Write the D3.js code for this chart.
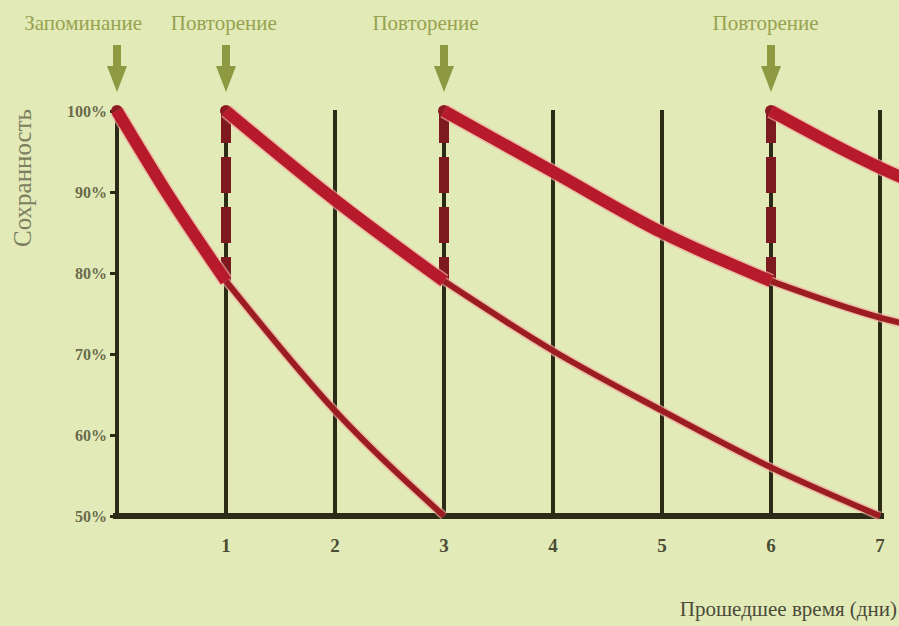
<!DOCTYPE html>
<html>
<head>
<meta charset="utf-8">
<script src="https://cdn.jsdelivr.net/npm/d3@7"></script>
<style>
  body { margin: 0; background: #e2eab8; }
  svg { display: block; }
  text { font-family: "Liberation Serif", "DejaVu Serif", serif; }
</style>
</head>
<body>
<svg id="vis" width="899" height="626"></svg>
<script>
// forgetting curve with repetitions

const days = [1, 2, 3, 4, 5, 6, 7];
const percentTicks = [50, 60, 70, 80, 90, 100];

const eventDays = [0, 1, 3, 6];
const eventLabels = ["Запоминание", "Повторение", "Повторение", "Повторение"];
const labelDays = [-0.31, 0.98, 2.83, 5.95];

// each curve: thick part until the next repetition, then thin
const curves = [
    { thick: [[0, 100], [0.5, 89], [1, 79]], thin: [[1, 79], [2, 63], [3, 50]] },
    { thick: [[1, 100], [2, 89], [3, 79]], thin: [[3, 79], [4, 70.4], [5, 63], [6, 56], [7, 50]] },
    { thick: [[3, 100], [4, 92.5], [5, 85], [6, 79]], thin: [[6, 79], [7, 74.5], [7.2, 73.8]] },
    { thick: [[6, 100], [7, 93], [7.2, 91.8]], thin: [] }
];
const repeatDays = [1, 3, 6];
const repeatFrom = [79, 79, 79];

const svg = d3.select('#vis');
const WIDTH = 899;
const HEIGHT = 626;

const x = d3.scaleLinear().domain([0, 7]).range([117, 880]);
const y = d3.scaleLinear().domain([50, 100]).range([516, 111]);

const gridColor = "#2b2b17";
const red = "#b71a2b";
const darkRed = "#9b1d22";
const olive = "#8d9a42";

svg.append("rect")
    .attr("width", WIDTH)
    .attr("height", HEIGHT)
    .attr("fill", "#e2eab8");

// vertical day lines
svg.selectAll(".grid")
    .data(days)
    .enter().append("line")
    .attr("class", "grid")
    .attr("x1", d => x(d))
    .attr("x2", d => x(d))
    .attr("y1", y(50))
    .attr("y2", y(100) - 1)
    .attr("stroke", gridColor)
    .attr("stroke-width", 4);

// y axis
const yAxis = svg.append("g")
    .attr("transform", "translate(" + x(0) + ",0)")
    .call(d3.axisLeft(y)
        .tickValues(percentTicks)
        .tickSize(7)
        .tickPadding(3)
        .tickFormat(d => d + "%"));

yAxis.select(".domain").remove();
yAxis.selectAll(".tick line")
    .attr("stroke", gridColor)
    .attr("stroke-width", 3);
yAxis.selectAll(".tick text")
    .attr("fill", "#6a6b4c")
    .attr("font-size", 16)
    .attr("font-weight", "bold")
    .attr("font-family", "'Liberation Serif', serif");

svg.append("line")
    .attr("x1", x(0))
    .attr("x2", x(0))
    .attr("y1", y(50))
    .attr("y2", y(100) - 4)
    .attr("stroke", gridColor)
    .attr("stroke-width", 4);

// baseline
svg.append("line")
    .attr("x1", x(0) - 4)
    .attr("x2", x(7) + 4)
    .attr("y1", y(50))
    .attr("y2", y(50))
    .attr("stroke", gridColor)
    .attr("stroke-width", 6);

// x tick labels
svg.selectAll(".xlabel")
    .data(days)
    .enter().append("text")
    .attr("class", "xlabel")
    .attr("x", d => x(d))
    .attr("y", 552)
    .attr("text-anchor", "middle")
    .attr("font-size", 19)
    .attr("font-weight", "bold")
    .attr("fill", "#4b4d35")
    .text(d => d);

// dashed repetition jumps
svg.selectAll(".jump")
    .data(repeatDays)
    .enter().append("line")
    .attr("class", "jump")
    .attr("x1", d => x(d))
    .attr("x2", d => x(d))
    .attr("y1", y(100) - 4)
    .attr("y2", (d, i) => y(repeatFrom[i]))
    .attr("stroke", "#7d1a1f")
    .attr("stroke-width", 10)
    .attr("stroke-dasharray", "36,14");

// rounded peaks where each curve starts (under the curves)
svg.selectAll(".peak")
    .data(eventDays)
    .enter().append("circle")
    .attr("class", "peak")
    .attr("cx", d => x(d))
    .attr("cy", y(100))
    .attr("r", 6)
    .attr("fill", "#8e1a22");

const line = d3.line()
    .x(d => x(d[0]))
    .y(d => y(d[1]))
    .curve(d3.curveMonotoneX);

// curves with a pinkish halo
function drawCurve(points, width, color) {
    if (!points.length) return;
    svg.append("path")
        .attr("d", line(points))
        .attr("fill", "none")
        .attr("stroke", "#f1a99c")
        .attr("stroke-opacity", 0.7)
        .attr("stroke-width", width + 3)
        .attr("stroke-linejoin", "round");
    svg.append("path")
        .attr("d", line(points))
        .attr("fill", "none")
        .attr("stroke", color)
        .attr("stroke-width", width)
        .attr("stroke-linejoin", "round");
}

curves.forEach(function (c) {
    drawCurve(c.thin, 6, darkRed);
});
curves.forEach(function (c) {
    drawCurve(c.thick, 12, red);
});

// arrows and labels at the top
svg.selectAll(".arrow")
    .data(eventDays)
    .enter().append("path")
    .attr("class", "arrow")
    .attr("d", d => "M" + (x(d) - 4) + ",45 L" + (x(d) + 4) + ",45 L" + (x(d) + 4) + ",66 L" +
        (x(d) + 10) + ",66 L" + x(d) + ",92 L" + (x(d) - 10) + ",66 L" + (x(d) - 4) + ",66 Z")
    .attr("fill", olive);

svg.selectAll(".evlabel")
    .data(eventLabels)
    .enter().append("text")
    .attr("class", "evlabel")
    .attr("x", (d, i) => x(labelDays[i]))
    .attr("y", 30)
    .attr("text-anchor", "middle")
    .attr("font-size", 21)
    .attr("fill", "#97a24f")
    .text(d => d);

// axis titles
svg.append("text")
    .attr("transform", "translate(31,178) rotate(-90)")
    .attr("text-anchor", "middle")
    .attr("font-size", 25)
    .attr("fill", "#7c7e60")
    .text("Сохранность");

svg.append("text")
    .attr("x", 897)
    .attr("y", 616)
    .attr("text-anchor", "end")
    .attr("font-size", 21)
    .attr("fill", "#4b4b3a")
    .text("Прошедшее время (дни)");
</script>
</body>
</html>
